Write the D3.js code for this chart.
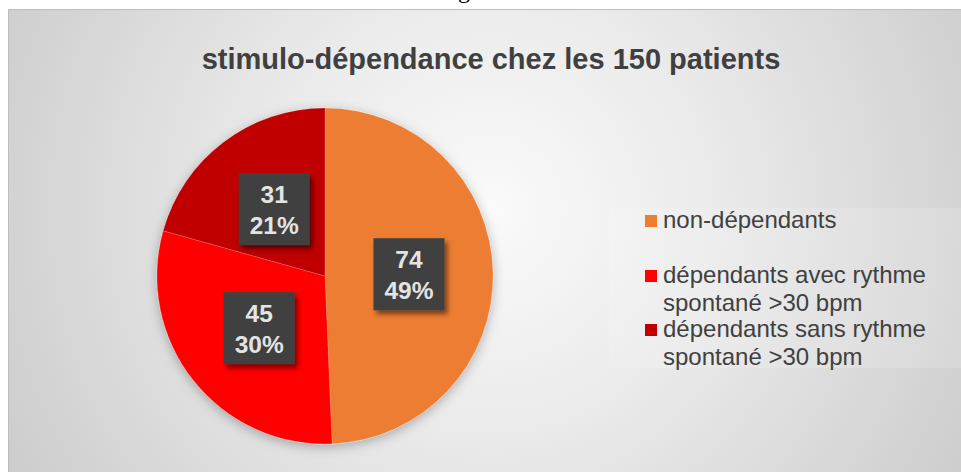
<!DOCTYPE html>
<html>
<head>
<meta charset="utf-8">
<script src="https://cdn.jsdelivr.net/npm/d3@7.9.0/dist/d3.min.js"></script>
<style>
  body { margin: 0; background: #ffffff; }
  svg { display: block; }
</style>
</head>
<body>
<div id="chart"></div>
<script>
// chart data
const title = "stimulo-dépendance chez les 150 patients";
const categories = ["non-dépendants", "dépendants avec rythme spontané >30 bpm", "dépendants sans rythme spontané >30 bpm"];
const counts = [74, 45, 31];
const colors = ["#ED7D31", "#FF0000", "#C00000"];
// legend text, as wrapped in the original
const legendLines = [
  ["non-dépendants"],
  ["dépendants avec rythme", "spontané >30 bpm"],
  ["dépendants sans rythme", "spontané >30 bpm"]
];

const width = 961;
const height = 472;
const total = d3.sum(counts);

const svg = d3.select("#chart")
  .append("svg")
  .attr("width", width)
  .attr("height", height);

const defs = svg.append("defs");

// background radial gradient of the chart area
const grad = defs.append("radialGradient")
  .attr("id", "bg")
  .attr("gradientUnits", "userSpaceOnUse")
  .attr("cx", 490).attr("cy", 210).attr("r", 540);
grad.append("stop").attr("offset", "0").attr("stop-color", "#fafafa");
grad.append("stop").attr("offset", "0.4").attr("stop-color", "#ebebeb");
grad.append("stop").attr("offset", "1").attr("stop-color", "#cdcdcd");

const pieShadow = defs.append("filter").attr("id", "pieShadow")
  .attr("x", "-20%").attr("y", "-20%").attr("width", "140%").attr("height", "140%");
pieShadow.append("feDropShadow")
  .attr("dx", 0).attr("dy", 3).attr("stdDeviation", 6)
  .attr("flood-color", "#000").attr("flood-opacity", 0.28);

const boxShadow = defs.append("filter").attr("id", "boxShadow")
  .attr("x", "-30%").attr("y", "-30%").attr("width", "160%").attr("height", "160%");
boxShadow.append("feDropShadow")
  .attr("dx", 3).attr("dy", 4).attr("stdDeviation", 2.5)
  .attr("flood-color", "#000").attr("flood-opacity", 0.5);

// piece of the caption text above the chart (only the descender shows)
svg.append("text")
  .attr("x", 438).attr("y", -2)
  .attr("font-family", "Liberation Serif, serif")
  .attr("font-size", 24)
  .attr("fill", "#000")
  .text("Figure");

// chart frame
svg.append("rect")
  .attr("x", 8.5).attr("y", 9.5)
  .attr("width", width + 10).attr("height", height + 10)
  .attr("fill", "url(#bg)")
  .attr("stroke", "#bdbdbd")
  .attr("stroke-width", 1);

// title
svg.append("text")
  .attr("x", 491).attr("y", 69)
  .attr("text-anchor", "middle")
  .attr("font-family", "Liberation Sans, Arial, sans-serif")
  .attr("font-weight", "bold")
  .attr("font-size", 29)
  .attr("fill", "#404040")
  .text(title);

// pie
const cx = 325, cy = 276, radius = 168;
const pie = d3.pie().sort(null).value(d => d);
const arcs = pie(counts);
const arc = d3.arc().innerRadius(0).outerRadius(radius);
const labelArc = d3.arc().innerRadius(0).outerRadius(radius);

const g = svg.append("g").attr("transform", `translate(${cx},${cy})`);

g.append("g")
  .attr("filter", "url(#pieShadow)")
  .selectAll("path")
  .data(arcs)
  .join("path")
  .attr("d", arc)
  .attr("fill", (d, i) => colors[i])
  .attr("stroke", "rgba(255,255,255,0.25)")
  .attr("stroke-width", 0.6);

// data labels
const boxW = 71, boxH = 72;
const labels = g.append("g")
  .selectAll("g")
  .data(arcs)
  .join("g")
  .attr("transform", d => {
    const [x, y] = labelArc.centroid(d);
    return `translate(${x},${y})`;
  });

labels.append("rect")
  .attr("x", -boxW / 2).attr("y", -boxH / 2)
  .attr("width", boxW).attr("height", boxH)
  .attr("fill", "#404040")
  .attr("filter", "url(#boxShadow)");

const labelText = labels.append("text")
  .attr("text-anchor", "middle")
  .attr("font-family", "Liberation Sans, Arial, sans-serif")
  .attr("font-weight", "bold")
  .attr("font-size", 24.5)
  .attr("fill", "#e4e4e4");
labelText.append("tspan").attr("x", 0).attr("y", -6).text(d => d.data);
labelText.append("tspan").attr("x", 0).attr("y", 25)
  .text(d => Math.round(d.data / total * 100) + "%");

// legend
svg.append("rect")
  .attr("x", 609).attr("y", 208)
  .attr("width", 360).attr("height", 160)
  .attr("fill", "#ffffff").attr("fill-opacity", 0.15);

const legendY = [228, 283, 337];
const lineH = 27.5;
const legend = svg.append("g")
  .selectAll("g")
  .data(categories)
  .join("g")
  .attr("transform", (d, i) => `translate(645,${legendY[i]})`);

legend.append("rect")
  .attr("x", 0).attr("y", -13)
  .attr("width", 12).attr("height", 12)
  .attr("fill", (d, i) => colors[i]);

legend.append("text")
  .attr("font-family", "Liberation Sans, Arial, sans-serif")
  .attr("font-size", 24)
  .attr("fill", "#404040")
  .selectAll("tspan")
  .data((d, i) => legendLines[i])
  .join("tspan")
  .attr("x", 18)
  .attr("y", (d, j) => j * lineH)
  .text(d => d);
</script>
</body>
</html>
